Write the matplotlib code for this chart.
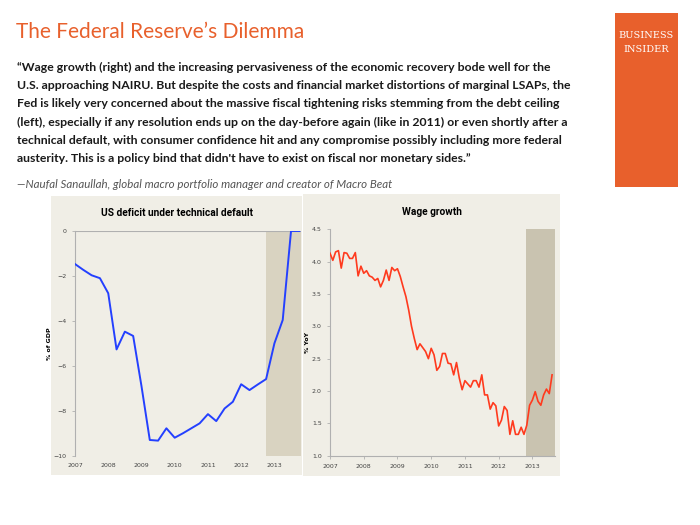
import numpy as np
import matplotlib
matplotlib.use('Agg')
import matplotlib.pyplot as plt
from matplotlib.patches import Rectangle

# deficit, % of GDP, quarterly from 2007Q1
deficit_start = 2007.0
deficit = [-1.47, -1.73, -1.97, -2.10, -2.77, -5.27, -4.48, -4.67,
           -6.90, -9.30, -9.33, -8.78, -9.20, -9.00, -8.78, -8.56,
           -8.15, -8.46, -7.90, -7.60, -6.82, -7.08, -6.83, -6.59,
           -5.00, -3.96, 0.00, 0.00]

# wage growth, % YoY, monthly from Jan 2007
wage_start = 2007.0
wage = [4.13, 4.02, 4.15, 4.17, 3.90, 4.14, 4.13, 4.05, 4.05, 4.14, 3.78, 3.93,
        3.82, 3.86, 3.78, 3.76, 3.71, 3.74, 3.61, 3.71, 3.87, 3.71, 3.91, 3.86,
        3.89, 3.77, 3.61, 3.46, 3.25, 3.00, 2.81, 2.64, 2.73, 2.67, 2.61, 2.50,
        2.66, 2.56, 2.32, 2.38, 2.58, 2.58, 2.43, 2.42, 2.25, 2.44, 2.20, 2.02,
        2.16, 2.11, 2.06, 2.16, 2.16, 2.06, 2.25, 1.94, 1.94, 1.72, 1.82, 1.77,
        1.46, 1.55, 1.76, 1.70, 1.33, 1.54, 1.33, 1.33, 1.44, 1.33, 1.47, 1.78,
        1.86, 1.99, 1.84, 1.78, 1.94, 2.03, 1.96, 2.25]

years = [2007, 2008, 2009, 2010, 2011, 2012, 2013]
deficit_ticks = [0, -2, -4, -6, -8, -10]
wage_ticks = [1.0, 1.5, 2.0, 2.5, 3.0, 3.5, 4.0, 4.5]

quote = ("\u201cWage growth (right) and the increasing pervasiveness of the economic recovery bode well for the\n"
         "U.S. approaching NAIRU. But despite the costs and financial market distortions of marginal LSAPs, the\n"
         "Fed is likely very concerned about the massive fiscal tightening risks stemming from the debt ceiling\n"
         "(left), especially if any resolution ends up on the day-before again (like in 2011) or even shortly after a\n"
         "technical default, with consumer confidence hit and any compromise possibly including more federal\n"
         "austerity. This is a policy bind that didn't have to exist on fiscal nor monetary sides.\u201d")
source = "\u2014Naufal Sanaullah, global macro portfolio manager and creator of Macro Beat"

orange = '#E8602C'
panel = '#F0EEE6'

fig = plt.figure(figsize=(7, 5.25), dpi=100)
fig.patch.set_facecolor('white')

W, H = 700.0, 525.0
def fx(px):
    return px / W
def fy(py):
    return 1 - py / H

# header
fig.text(fx(16), fy(32), "The Federal Reserve\u2019s Dilemma", color=orange,
         fontsize=15, family=['Lato', 'DejaVu Sans'], va='center')
fig.text(fx(17), fy(62), quote, fontsize=8.8, fontweight='bold', family=['Lato', 'DejaVu Sans'],
         va='top', linespacing=1.8, color='#1a1a1a')
fig.text(fx(17), fy(184), source, fontsize=8.3, style='italic', family=['Lato', 'DejaVu Sans'],
         va='center', color='#555555')

# logo
fig.add_artist(Rectangle((fx(615), fy(187)), fx(678) - fx(615), fy(13) - fy(187),
                         transform=fig.transFigure, facecolor=orange, edgecolor='none'))
fig.text(fx(646.5), fy(35), "BUSINESS", color='white', fontsize=7,
         family=['DejaVu Serif'], ha='center', va='center')
fig.text(fx(646.5), fy(50), "INSIDER", color='white', fontsize=7,
         family=['DejaVu Serif'], ha='center', va='center')

# chart panels
fig.add_artist(Rectangle((fx(51), fy(475)), fx(302) - fx(51), fy(196) - fy(475),
                         transform=fig.transFigure, facecolor=panel, edgecolor='none', zorder=-5))
fig.add_artist(Rectangle((fx(303), fy(476)), fx(560) - fx(303), fy(194) - fy(476),
                         transform=fig.transFigure, facecolor=panel, edgecolor='none', zorder=-5))

# chart titles, centred on panels
fig.text(fx(177), fy(213), 'US deficit under technical default', fontsize=7.3,
         fontweight='bold', family=['Roboto', 'DejaVu Sans'], fontstretch='condensed',
         ha='center', va='center')
fig.text(fx(432), fy(212), 'Wage growth', fontsize=7.3, fontweight='bold',
         family=['Roboto', 'DejaVu Sans'], fontstretch='condensed', ha='center', va='center')

# left chart: deficit
ax1 = fig.add_axes([fx(75), fy(455.7), fx(301) - fx(75), fy(231) - fy(455.7)])
ax1.set_facecolor('none')
xd = deficit_start + np.arange(len(deficit)) * 0.25
ax1.axvspan(2012.75, 2013.8, color='#D9D3C1', zorder=0, lw=0)
ax1.axhline(0, color='#b0b0b0', lw=0.8, zorder=1)
ax1.plot(xd, deficit, color='#2440FF', lw=1.4, zorder=3)
ax1.set_xlim(2007, 2013.8)
ax1.set_ylim(-10, 0)
ax1.set_xticks(years)
ax1.set_xticklabels([str(y) for y in years])
ax1.set_yticks(deficit_ticks)
for s in ['top', 'right', 'bottom']:
    ax1.spines[s].set_visible(False)
ax1.spines['left'].set_color('#b0b0b0')
ax1.spines['left'].set_linewidth(0.8)
ax1.tick_params(axis='x', length=0, labelsize=4.5, labelcolor='#444444', pad=5)
ax1.tick_params(axis='y', length=2, width=0.6, color='#b0b0b0', labelsize=4.5,
                labelcolor='#444444', pad=4)
ax1.set_ylabel('% of GDP', fontsize=4.5, fontweight='bold', labelpad=1)

# right chart: wage growth
ax2 = fig.add_axes([fx(330), fy(455.7), fx(555) - fx(330), fy(229.3) - fy(455.7)])
ax2.set_facecolor('none')
xw = wage_start + np.arange(len(wage)) / 12.0
ax2.axvspan(2012.8, 2013.67, color='#C9C3B0', zorder=0, lw=0)
ax2.plot(xw, wage, color='#FF3A1E', lw=1.2, zorder=3)
ax2.set_xlim(2007, 2013.67)
ax2.set_ylim(1.0, 4.5)
ax2.set_xticks(years)
ax2.set_xticklabels([str(y) for y in years])
ax2.set_yticks(wage_ticks)
ax2.set_yticklabels(['%.1f' % t for t in wage_ticks])
for s in ['top', 'right']:
    ax2.spines[s].set_visible(False)
for s in ['left', 'bottom']:
    ax2.spines[s].set_color('#b0b0b0')
    ax2.spines[s].set_linewidth(0.8)
ax2.tick_params(axis='both', length=2, width=0.6, color='#b0b0b0', labelsize=4.5,
                labelcolor='#444444', pad=4)
ax2.set_ylabel('% YoY', fontsize=4.5, fontweight='bold', labelpad=1)

fig.savefig('out.png', dpi=100, facecolor='white')
